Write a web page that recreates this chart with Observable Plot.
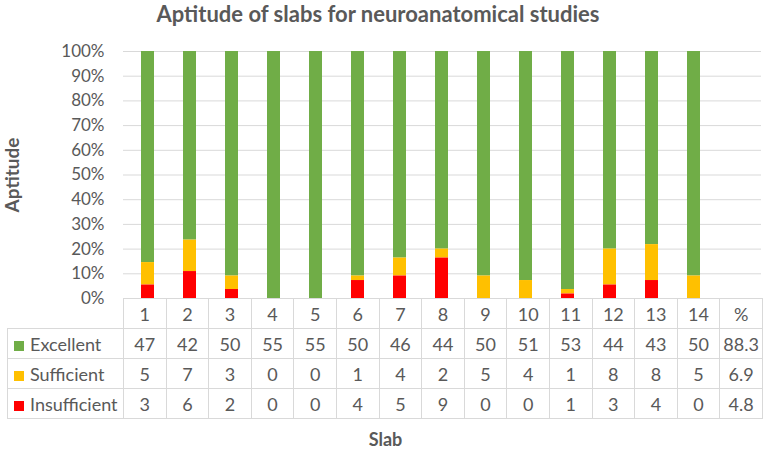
<!DOCTYPE html>
<html>
<head>
<meta charset="utf-8">
<script src="https://cdn.jsdelivr.net/npm/d3@7"></script>
<script src="https://cdn.jsdelivr.net/npm/@observablehq/plot@0.6"></script>
<style>
  html, body { margin: 0; padding: 0; background: #fff; }
  #wrap { position: relative; width: 765px; height: 451px; font-family: Lato, "Open Sans", sans-serif; color: #595959; overflow: hidden; }
  #title { position: absolute; top: 0px; left: 0; width: 756px; text-align: center; font-weight: bold; font-size: 22px; line-height: 27px; }
  #chart { position: absolute; top: 0; left: 0; }
  #chart svg g[aria-label="y-axis label"] text { font-weight: bold; font-size: 19px; }
  #tbl { position: absolute; left: 7px; top: 298px; border-collapse: collapse; table-layout: fixed; width: 755px; font-size: 18px; }
  #tbl td { border: 1px solid #d9d9d9; text-align: center; padding: 0; height: 29px; line-height: 20px; color: #595959; }
  #tbl td.blank { border: none; }
  #tbl td.lab { text-align: left; padding-left: 6px; white-space: nowrap; }
  #tbl td.lab span.sw { display: inline-block; width: 10px; height: 10px; margin-right: 6px; vertical-align: 0px; }
  #xlabel { position: absolute; top: 428px; left: 0; width: 771px; text-align: center; font-weight: bold; font-size: 18px; line-height: 22px; }
</style>
</head>
<body>
<div id="wrap">
  <div id="chart"></div>
  <div id="title">Aptitude of slabs for neuroanatomical studies</div>
  <table id="tbl"></table>
  <div id="xlabel">Slab</div>
</div>
<script>
const slabs = ["1","2","3","4","5","6","7","8","9","10","11","12","13","14"];
const extraColumn = "%";
const seriesNames = ["Excellent", "Sufficient", "Insufficient"];
const seriesColors = ["#70AD47", "#FFC000", "#FF0000"];
const excellent = [47,42,50,55,55,50,46,44,50,51,53,44,43,50];
const sufficient = [5,7,3,0,0,1,4,2,5,4,1,8,8,5];
const insufficient = [3,6,2,0,0,4,5,9,0,0,1,3,4,0];
const totalPercent = ["88.3", "6.9", "4.8"];
const yTicks = [0,0.1,0.2,0.3,0.4,0.5,0.6,0.7,0.8,0.9,1];

const seriesValues = [excellent, sufficient, insufficient];
const data = [];
seriesNames.forEach((s, i) => slabs.forEach((slab, j) => data.push({slab, series: s, value: seriesValues[i][j]})));

const chart = Plot.plot({
  width: 765,
  height: 312,
  marginTop: 51,
  marginBottom: 14,
  marginLeft: 123,
  marginRight: 4,
  style: {fontFamily: "Lato, 'Open Sans', sans-serif", fontSize: "17px", color: "#595959", background: "transparent"},
  x: {domain: [...slabs, extraColumn], paddingInner: 0.69, paddingOuter: 0.345, axis: null},
  y: {domain: [0, 1], ticks: yTicks, tickFormat: d3.format(".0%"), tickSize: 0, tickPadding: 19,
      label: "Aptitude", labelAnchor: "center", labelArrow: "none", labelOffset: 118},
  color: {domain: seriesNames, range: seriesColors},
  marks: [
    Plot.gridY(yTicks, {stroke: "#d9d9d9", strokeOpacity: 1, strokeWidth: 1}),
    Plot.barY(data, Plot.stackY({
      x: "slab", y: "value", fill: "series",
      offset: "normalize",
      order: ["Insufficient", "Sufficient", "Excellent"]
    }))
  ]
});
document.getElementById("chart").appendChild(chart);

// data table (legend + values) built from the arrays
const tbl = document.getElementById("tbl");
const cg = document.createElement("colgroup");
const c0 = document.createElement("col"); c0.style.width = "116px"; cg.appendChild(c0);
[...slabs, extraColumn].forEach(() => { const c = document.createElement("col"); c.style.width = "42.6px"; cg.appendChild(c); });
tbl.appendChild(cg);
const head = document.createElement("tr");
const blank = document.createElement("td"); blank.className = "blank"; head.appendChild(blank);
[...slabs, extraColumn].forEach(s => { const td = document.createElement("td"); td.textContent = s; head.appendChild(td); });
tbl.appendChild(head);
seriesNames.forEach((name, i) => {
  const tr = document.createElement("tr");
  const lab = document.createElement("td"); lab.className = "lab";
  const sw = document.createElement("span"); sw.className = "sw"; sw.style.background = seriesColors[i];
  lab.appendChild(sw); lab.appendChild(document.createTextNode(name));
  tr.appendChild(lab);
  seriesValues[i].forEach(v => { const td = document.createElement("td"); td.textContent = v; tr.appendChild(td); });
  const pct = document.createElement("td"); pct.textContent = totalPercent[i]; tr.appendChild(pct);
  tbl.appendChild(tr);
});
</script>
</body>
</html>
